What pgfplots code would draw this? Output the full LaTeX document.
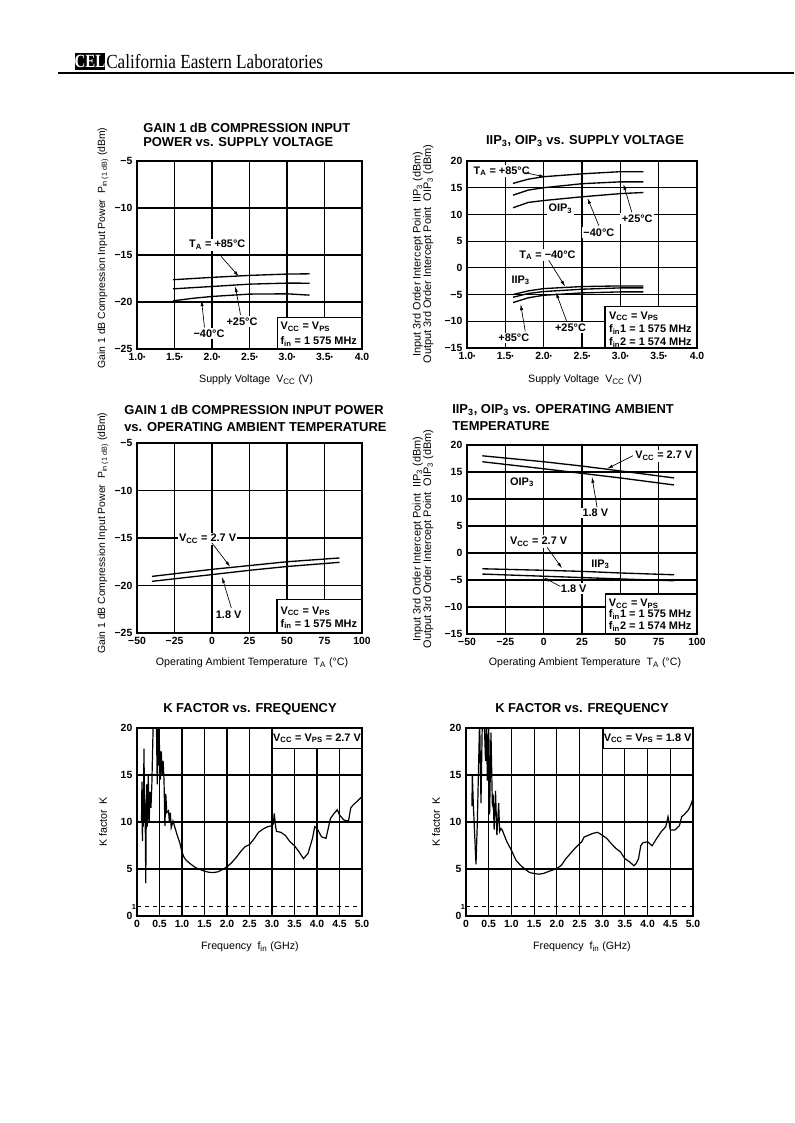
\documentclass[border=0pt]{standalone}
\usepackage{pgfplots}
\pgfplotsset{compat=1.18}
\usepackage{fontspec}
\setmainfont{Liberation Sans}
\newfontfamily\celserif{Liberation Serif}
\usetikzlibrary{arrows.meta}

\newcommand\sub[1]{\textsubscript{#1}}
\newcommand\dt{\raisebox{0.3ex}{\fontsize{5}{5}\selectfont•}}
\newcommand\ttl{\fontsize{9.7}{11}\selectfont\bfseries}
\newcommand\lbl{\fontsize{8}{9.5}\selectfont}
\newcommand\ylb{\fontsize{7.8}{8.2}\selectfont}
\newcommand\ylbb{\fontsize{8.2}{8.0}\selectfont}
\newcommand\ann{\fontsize{8.2}{9.5}\selectfont\bfseries}
\newcommand\tck{\fontsize{7.8}{9}\selectfont\bfseries}

\pgfplotsset{
  dsheet/.style={
    scale only axis, anchor=south west,
    axis line style={line width=0.9pt},
    grid=major,
    major grid style={line width=0.8pt, black},
    major tick length=0pt,
    tick style={draw=none},
    ticklabel style={font=\tck},
    clip=false,
  },
  curve/.style={black, line width=1pt, no marks},
  kfac/.style={
    clip=true,
    xmin=0, xmax=5, ymin=0, ymax=20,
    xtick={0,0.5,1,1.5,2,2.5,3,3.5,4,4.5,5},
    xticklabels={0,0.5,1.0,1.5,2.0,2.5,3.0,3.5,4.0,4.5,5.0},
    ytick={0,5,10,15,20}, yticklabels={0,5,10,15,20},
    extra y ticks={1}, extra y tick labels={1},
    extra y tick style={grid=none, yticklabel style={font=\fontsize{5.5}{5.5}\selectfont\bfseries, inner xsep=0.5pt}},
  },
}
\tikzset{
  ann/.style={font=\ann, inner sep=1pt, fill=white},
  arr/.style={-{Latex[length=4.5pt,width=2.4pt]}, line width=0.5pt},
  box/.style={line width=0.9pt, fill=white},
}

\begin{document}
\begin{tikzpicture}
\path[use as bounding box] (0pt,0pt) rectangle (595.5pt,-842.25pt);

% ---------- header
\begin{scope}[x=0.75pt,y=-0.75pt]
  \fill[black] (75,53) rectangle (105,70);
  \node[text=white, font=\celserif\bfseries\fontsize{14}{14}\selectfont, inner sep=0pt] at (90,61.5) {\scalebox{0.8}[1]{CEL}};
  \node[anchor=base west, font=\celserif\fontsize{15}{15}\selectfont, inner sep=0pt] at (106,69) {\scalebox{0.86}[1]{California Eastern Laboratories}};
  \draw[line width=1pt] (58,73) -- (794,73);
\end{scope}

% ---------- 1: gain compression vs supply voltage
\begin{axis}[dsheet, at={(102.75pt,-261.75pt)}, width=168.75pt, height=141pt,
  xmin=1, xmax=4, ymin=-25, ymax=-5,
  xtick={1,1.5,2,2.5,3,3.5,4},
  xticklabels={1.0\dt,1.5\dt,2.0\dt,2.5\dt,3.0\dt,3.5\dt,4.0},
  ytick={-25,-20,-15,-10,-5}, yticklabels={−25,−20,−15,−10,−5}]
\addplot[curve] coordinates {(1.48,-17.63)(1.75,-17.5)(2.0,-17.38)(2.5,-17.17)(3.0,-17.03)(3.3,-17.0)};
\addplot[curve] coordinates {(1.48,-18.6)(1.75,-18.47)(2.0,-18.35)(2.5,-18.1)(3.0,-17.99)(3.3,-18.0)};
\addplot[curve] coordinates {(1.48,-19.88)(1.75,-19.6)(2.0,-19.41)(2.5,-19.16)(3.0,-19.13)(3.3,-19.27)};
\node[ann] at (axis cs:2.07,-13.9) {T\sub{A} = +85°C};
\draw[arr] (axis cs:2.12,-15.14) -- (axis cs:2.36,-17.3);
\node[ann] at (axis cs:2.4,-22.08) {+25°C};
\draw[arr] (axis cs:2.38,-21.37) -- (axis cs:2.31,-18.3);
\node[ann] at (axis cs:1.96,-23.33) {−40°C};
\draw[arr] (axis cs:1.90,-22.7) -- (axis cs:1.86,-19.8);
\draw[box] (axis cs:2.87,-21.62) rectangle (axis cs:4,-25);
\node[font=\ann, anchor=west, inner sep=0pt] at (axis cs:2.91,-22.6) {V\sub{CC} = V\sub{PS}};
\node[font=\ann, anchor=west, inner sep=0pt] at (axis cs:2.91,-24.2) {f\sub{in} = 1 575 MHz};
\end{axis}

% ---------- 2: IIP3/OIP3 vs supply voltage
\begin{axis}[dsheet, at={(350.25pt,-261pt)}, width=172.5pt, height=140.25pt,
  xmin=1, xmax=4, ymin=-15, ymax=20,
  xtick={1,1.5,2,2.5,3,3.5,4},
  xticklabels={1.0\dt,1.5\dt,2.0\dt,2.5\dt,3.0\dt,3.5\dt,4.0},
  ytick={-15,-10,-5,0,5,10,15,20}, yticklabels={−15,−10,−5,0,5,10,15,20}]
\addplot[curve] coordinates {(1.6,15.81)(1.8,16.6)(2.0,17.06)(2.5,17.6)(3.0,18.0)(3.3,18.0)};
\addplot[curve] coordinates {(1.6,13.6)(1.8,14.56)(2.0,15.0)(2.5,15.75)(3.0,16.1)(3.3,16.1)};
\addplot[curve] coordinates {(1.6,11.25)(1.8,12.25)(2.0,12.6)(2.5,13.3)(3.0,13.9)(3.3,14.1)};
\addplot[curve] coordinates {(1.6,-5.0)(1.8,-4.31)(2.0,-3.88)(2.5,-3.5)(3.0,-3.38)(3.3,-3.38)};
\addplot[curve] coordinates {(1.6,-5.5)(1.8,-4.8)(2.0,-4.44)(2.5,-4.0)(3.0,-3.75)(3.3,-3.75)};
\addplot[curve] coordinates {(1.6,-6.5)(1.8,-5.6)(2.0,-5.13)(2.5,-4.69)(3.0,-4.5)(3.3,-4.5)};
\node[ann, anchor=west] at (axis cs:1.065,18.13) {T\sub{A} = +85°C};
\draw[arr] (axis cs:1.76,17.81) -- (axis cs:2.02,17.0);
\node[ann] at (axis cs:2.22,11.1) {OIP\sub{3}};
\node[ann] at (axis cs:3.22,9.25) {+25°C};
\draw[arr] (axis cs:3.15,10.4) -- (axis cs:3.04,15.7);
\node[ann] at (axis cs:2.72,6.63) {−40°C};
\draw[arr] (axis cs:2.72,7.9) -- (axis cs:2.57,13.1);
\node[ann] at (axis cs:2.05,2.375) {T\sub{A} = −40°C};
\draw[arr] (axis cs:2.065,1.44) -- (axis cs:2.28,-3.5);
\node[ann] at (axis cs:1.70,-2.31) {IIP\sub{3}};
\node[ann] at (axis cs:2.35,-11.19) {+25°C};
\draw[arr] (axis cs:2.30,-10.0) -- (axis cs:2.16,-4.6);
\node[ann] at (axis cs:1.61,-13.1) {+85°C};
\draw[arr] (axis cs:1.76,-11.9) -- (axis cs:1.70,-6.8);
\draw[box] (axis cs:2.80,-7.3) rectangle (axis cs:4,-15);
\node[font=\ann, anchor=west, inner sep=0pt] at (axis cs:2.85,-9.06) {V\sub{CC} = V\sub{PS}};
\node[font=\ann, anchor=west, inner sep=0pt] at (axis cs:2.85,-11.5) {f\sub{in}1 = 1 575 MHz};
\node[font=\ann, anchor=west, inner sep=0pt] at (axis cs:2.85,-13.9) {f\sub{in}2 = 1 574 MHz};
\end{axis}

% ---------- 3: gain compression vs temperature
\begin{axis}[dsheet, at={(102.75pt,-474.75pt)}, width=168.75pt, height=142.5pt,
  xmin=-50, xmax=100, ymin=-25, ymax=-5,
  xtick={-50,-25,0,25,50,75,100}, xticklabels={−50,−25,0,25,50,75,100},
  ytick={-25,-20,-15,-10,-5}, yticklabels={−25,−20,−15,−10,−5}]
\addplot[curve] coordinates {(-40,-19.04)(0,-18.3)(25,-17.9)(50,-17.5)(85,-17.1)};
\addplot[curve] coordinates {(-40,-19.56)(0,-18.85)(25,-18.4)(50,-18.0)(85,-17.56)};
\node[ann] at (axis cs:-2.9,-15.07) {V\sub{CC} = 2.7 V};
\draw[arr] (axis cs:0,-15.53) -- (axis cs:12.2,-18.05);
\node[ann] at (axis cs:11.1,-23.07) {1.8 V};
\draw[arr] (axis cs:12.9,-22.37) -- (axis cs:6.67,-19.1);
\draw[box] (axis cs:43.3,-21.5) rectangle (axis cs:100,-25);
\node[font=\ann, anchor=west, inner sep=0pt] at (axis cs:45.6,-22.7) {V\sub{CC} = V\sub{PS}};
\node[font=\ann, anchor=west, inner sep=0pt] at (axis cs:45.6,-24.05) {f\sub{in} = 1 575 MHz};
\end{axis}

% ---------- 4: IIP3/OIP3 vs temperature
\begin{axis}[dsheet, at={(350.25pt,-475.5pt)}, width=172.5pt, height=141.75pt,
  xmin=-50, xmax=100, ymin=-15, ymax=20,
  xtick={-50,-25,0,25,50,75,100}, xticklabels={−50,−25,0,25,50,75,100},
  ytick={-15,-10,-5,0,5,10,15,20}, yticklabels={−15,−10,−5,0,5,10,15,20}]
\addplot[curve] coordinates {(-40,18.0)(0,16.9)(25,16.1)(50,15.2)(85,13.9)};
\addplot[curve] coordinates {(-40,16.9)(0,15.6)(25,14.75)(50,13.9)(85,12.6)};
\addplot[curve] coordinates {(-40,-2.92)(0,-3.2)(25,-3.4)(50,-3.7)(85,-4.03)};
\addplot[curve] coordinates {(-40,-3.9)(0,-4.3)(25,-4.55)(50,-4.8)(85,-5.14)};
\node[ann, anchor=west] at (axis cs:58.7,17.97) {V\sub{CC} = 2.7 V};
\draw[arr] (axis cs:58.3,18.03) -- (axis cs:41.3,15.6);
\node[ann] at (axis cs:-14.1,13.1) {OIP\sub{3}};
\node[ann] at (axis cs:33.7,7.37) {1.8 V};
\draw[arr] (axis cs:34.8,8.48) -- (axis cs:31.5,14.1);
\node[ann] at (axis cs:-3.26,2.13) {V\sub{CC} = 2.7 V};
\draw[arr] (axis cs:2.17,1.08) -- (axis cs:12.0,-2.85);
\node[ann] at (axis cs:37,-2.06) {IIP\sub{3}};
\node[ann] at (axis cs:19.6,-6.6) {1.8 V};
\draw[arr] (axis cs:10.87,-6.18) -- (axis cs:0,-4.55);
\draw[box] (axis cs:40.2,-7.6) rectangle (axis cs:100,-15);
\node[font=\ann, anchor=west, inner sep=0pt] at (axis cs:42.4,-9.45) {V\sub{CC} = V\sub{PS}};
\node[font=\ann, anchor=west, inner sep=0pt] at (axis cs:42.4,-11.4) {f\sub{in}1 = 1 575 MHz};
\node[font=\ann, anchor=west, inner sep=0pt] at (axis cs:42.4,-13.6) {f\sub{in}2 = 1 574 MHz};
\end{axis}

% ---------- 5: K factor, 2.7 V
\begin{axis}[dsheet, kfac, at={(102.75pt,-687pt)}, width=168.75pt, height=141pt]
\addplot[black, dashed, line width=0.5pt] coordinates {(0,1)(5,1)};
\addplot[curve, line width=0.9pt] coordinates {(0.10,10.0)(0.11,14.3)(0.12,8.0)(0.13,13.5)(0.14,9.5)(0.155,17.8)(0.17,10.0)(0.18,12.0)(0.195,3.5)(0.21,14.0)(0.23,9.5)(0.25,15.0)(0.27,10.0)(0.29,13.2)(0.31,11.5)(0.33,14.0)(0.36,20.5)(0.40,21)(0.43,21)(0.45,14.0)(0.47,21)(0.49,16.0)(0.50,18.2)(0.52,14.5)(0.54,17.5)(0.56,15.0)(0.58,16.5)(0.60,14.5)(0.62,9.6)(0.64,13.0)(0.66,11.0)(0.70,11.2)(0.72,10.0)(0.74,11.0)(0.76,9.4)(0.80,10.1)(0.85,9.3)(0.90,8.5)(0.95,7.8)(1.0,6.8)(1.05,6.2)(1.1,5.9)(1.2,5.5)(1.3,5.15)(1.4,4.95)(1.5,4.77)(1.6,4.65)(1.7,4.63)(1.8,4.7)(1.9,4.95)(2.0,5.23)(2.1,5.66)(2.2,6.2)(2.3,6.83)(2.4,7.37)(2.5,7.6)(2.6,8.2)(2.7,8.9)(2.8,9.25)(2.9,9.5)(3.0,9.6)(3.03,9.8)(3.05,10.9)(3.08,9.5)(3.1,9.0)(3.2,8.9)(3.3,8.55)(3.4,7.9)(3.5,7.47)(3.6,6.83)(3.7,6.1)(3.8,6.65)(3.9,8.26)(3.95,9.5)(4.0,9.32)(4.1,8.43)(4.2,8.26)(4.3,10.4)(4.4,11.03)(4.45,11.3)(4.5,10.75)(4.6,10.2)(4.7,10.1)(4.75,11.5)(4.8,11.8)(4.9,12.24)(5.0,12.7)};
\draw[box] (axis cs:3.0,17.86) rectangle (axis cs:5,20);
\node[font=\ann, inner sep=0pt] at (axis cs:4.0,18.93) {V\sub{CC} = V\sub{PS} = 2.7 V};
\end{axis}

% ---------- 6: K factor, 1.8 V
\begin{axis}[dsheet, kfac, at={(349.5pt,-687pt)}, width=170.25pt, height=141pt]
\addplot[black, dashed, line width=0.5pt] coordinates {(0,1)(5,1)};
\addplot[curve, line width=0.9pt] coordinates {(0.13,11.7)(0.14,15.0)(0.16,12.0)(0.22,5.5)(0.25,10.0)(0.30,21)(0.33,12.0)(0.36,21)(0.40,21)(0.43,16.5)(0.45,21)(0.47,14.4)(0.50,21)(0.52,10.8)(0.55,19.5)(0.58,12.0)(0.60,12.5)(0.62,9.2)(0.65,13.3)(0.68,8.6)(0.72,12.0)(0.74,9.0)(0.77,9.3)(0.80,9.15)(0.85,8.5)(0.90,7.9)(1.0,7.0)(1.1,5.94)(1.2,5.4)(1.3,4.98)(1.4,4.63)(1.5,4.52)(1.6,4.45)(1.7,4.52)(1.8,4.7)(1.9,4.88)(2.0,5.05)(2.1,5.4)(2.2,6.1)(2.3,6.65)(2.4,7.2)(2.5,7.7)(2.55,7.9)(2.6,8.4)(2.7,8.6)(2.8,8.8)(2.9,8.9)(3.0,8.6)(3.1,8.26)(3.2,7.7)(3.3,7.2)(3.4,6.83)(3.5,6.1)(3.6,5.77)(3.7,5.34)(3.75,5.6)(3.8,6.1)(3.85,7.5)(3.9,7.8)(4.0,7.9)(4.1,7.47)(4.2,8.26)(4.3,8.97)(4.4,9.5)(4.45,10.57)(4.5,9.15)(4.6,9.15)(4.7,9.6)(4.75,10.57)(4.8,10.75)(4.9,11.3)(4.95,11.8)(5.0,12.5)};
\draw[box] (axis cs:3.02,17.86) rectangle (axis cs:5,20);
\node[font=\ann, inner sep=0pt] at (axis cs:4.0,18.93) {V\sub{CC} = V\sub{PS} = 1.8 V};
\end{axis}

% ---------- titles and axis labels (page px)
\begin{scope}[x=0.75pt,y=-0.75pt]
  \node[anchor=west, font=\ttl, inner sep=0pt] at (143,128) {GAIN 1 dB COMPRESSION INPUT};
  \node[anchor=west, font=\ttl, inner sep=0pt] at (143,142) {POWER vs. SUPPLY VOLTAGE};
  \node[font=\lbl] at (256,380) {Supply Voltage\ \ V\sub{CC} (V)};
  \node[font=\ylb, rotate=90] at (103,248) {Gain 1 dB Compression Input Power\ \ P\sub{in (1 dB)} (dBm)};

  \node[font=\ttl, inner sep=0pt] at (585,141) {IIP\sub{3}, OIP\sub{3} vs. SUPPLY VOLTAGE};
  \node[font=\lbl] at (585,380) {Supply Voltage\ \ V\sub{CC} (V)};
  \node[font=\ylbb, rotate=90, align=center] at (423,254) {Input 3rd Order Intercept Point\ \ IIP\sub{3} (dBm)\\Output 3rd Order Intercept Point\ \ OIP\sub{3} (dBm)};

  \node[anchor=west, font=\ttl, inner sep=0pt] at (124,410) {GAIN 1 dB COMPRESSION INPUT POWER};
  \node[anchor=west, font=\ttl, inner sep=0pt] at (124,427) {vs. OPERATING AMBIENT TEMPERATURE};
  \node[font=\lbl] at (252,663) {Operating Ambient Temperature\ \ T\sub{A} (°C)};
  \node[font=\ylb, rotate=90] at (103,533) {Gain 1 dB Compression Input Power\ \ P\sub{in (1 dB)} (dBm)};

  \node[anchor=west, font=\ttl, inner sep=0pt] at (452,410) {IIP\sub{3}, OIP\sub{3} vs. OPERATING AMBIENT};
  \node[anchor=west, font=\ttl, inner sep=0pt] at (452,426) {TEMPERATURE};
  \node[font=\lbl] at (585,663) {Operating Ambient Temperature\ \ T\sub{A} (°C)};
  \node[font=\ylbb, rotate=90, align=center] at (423,539) {Input 3rd Order Intercept Point\ \ IIP\sub{3} (dBm)\\Output 3rd Order Intercept Point\ \ OIP\sub{3} (dBm)};

  \node[font=\ttl, inner sep=0pt] at (250,709) {K FACTOR vs. FREQUENCY};
  \node[font=\lbl] at (250,947) {Frequency\ \ f\sub{in} (GHz)};
  \node[font=\lbl, rotate=90] at (103,822) {K factor\ \ K};

  \node[font=\ttl, inner sep=0pt] at (582,709) {K FACTOR vs. FREQUENCY};
  \node[font=\lbl] at (582,947) {Frequency\ \ f\sub{in} (GHz)};
  \node[font=\lbl, rotate=90] at (436,822) {K factor\ \ K};
\end{scope}
\end{tikzpicture}
\end{document}
